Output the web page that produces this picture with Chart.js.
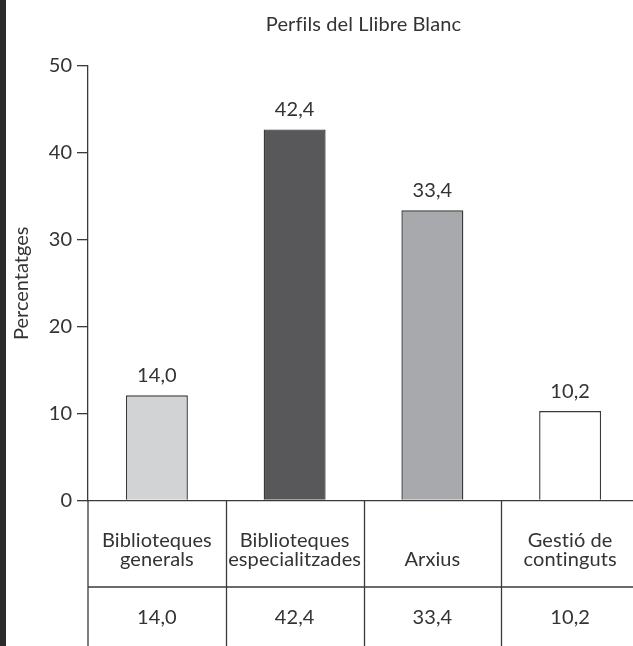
<!DOCTYPE html>
<html>
<head>
<meta charset="utf-8">
<script src="https://cdn.jsdelivr.net/npm/chart.js@4/dist/chart.umd.min.js"></script>
<style>
  html, body { margin: 0; padding: 0; background: #fff; overflow: hidden; }
  #wrap { position: relative; width: 640px; height: 646px; }
</style>
</head>
<body>
<div id="wrap"><canvas id="c" width="640" height="646"></canvas></div>
<script>
// ---- data ----
const chartTitle = 'Perfils del Llibre Blanc';
const yAxisTitle = 'Percentatges';
const categories = [['Biblioteques', 'generals'], ['Biblioteques', 'especialitzades'], ['Arxius'], ['Gestió de', 'continguts']];
const percentValues = [14.0, 42.4, 33.4, 10.2];           // printed values
const percentLabels = ['14,0', '42,4', '33,4', '10,2'];   // printed text (Catalan decimal comma)
const barHeights = [12.1, 42.7, 33.4, 10.3];              // bar heights as drawn in the picture
const yTicks = [0, 10, 20, 30, 40, 50];

const FONT = 'Lato, "Open Sans", sans-serif';
const TXT = '#333333';
const LINE = '#3a3a3a';

const decor = {
  id: 'decor',
  beforeDraw(chart) {
    const ctx = chart.ctx;
    ctx.save();
    ctx.fillStyle = '#ffffff';
    ctx.fillRect(0, 0, chart.width, chart.height);
    ctx.fillStyle = '#2b2b2b';
    ctx.fillRect(0, 0, 6, chart.height);
    ctx.restore();
  },
  afterDraw(chart) {
    const ctx = chart.ctx;
    const ca = chart.chartArea;
    const xs = chart.scales.x;
    const H = chart.height;
    ctx.save();
    if ('letterSpacing' in ctx) ctx.letterSpacing = '0.1px';
    // title
    ctx.fillStyle = TXT;
    ctx.font = '20px ' + FONT;
    ctx.textAlign = 'center';
    ctx.textBaseline = 'alphabetic';
    ctx.fillText(chartTitle, (ca.left + ca.right) / 2, 31);

    // value labels above bars
    const meta = chart.getDatasetMeta(0);
    meta.data.forEach((bar, i) => {
      ctx.fillText(percentLabels[i], bar.x, bar.y - 13);
    });

    // table lines
    ctx.strokeStyle = LINE;
    ctx.lineWidth = 1.3;
    ctx.beginPath();
    ctx.moveTo(ca.left, ca.bottom);
    ctx.lineTo(ca.left, H);
    const rowY = ca.bottom + 86.5;
    ctx.moveTo(ca.left, rowY);
    ctx.lineTo(chart.width, rowY);
    for (let i = 0; i < categories.length - 1; i++) {
      const bx = Math.round((xs.getPixelForValue(i) + xs.getPixelForValue(i + 1)) / 2) + 0.5;
      ctx.moveTo(bx, ca.bottom);
      ctx.lineTo(bx, H);
    }
    ctx.stroke();

    // category labels (bottom aligned) and value row
    ctx.fillStyle = TXT;
    categories.forEach((lines, i) => {
      const cx = xs.getPixelForValue(i);
      const base = ca.bottom + 65.5;
      for (let k = 0; k < lines.length; k++) {
        const y = base - (lines.length - 1 - k) * 19.5;
        ctx.fillText(lines[k], cx, y);
      }
      ctx.fillText(percentLabels[i], cx, ca.bottom + 123.5);
    });
    ctx.restore();
  }
};

new Chart(document.getElementById('c'), {
  type: 'bar',
  data: {
    labels: categories.map(c => c.join(' ')),
    datasets: [{
      data: barHeights,
      backgroundColor: ['#d1d3d4', '#58585a', '#a7a9ac', '#ffffff'],
      borderColor: '#3a3a3a',
      borderWidth: 1.4,
      barPercentage: 0.45,
      categoryPercentage: 1.0
    }]
  },
  options: {
    responsive: false,
    animation: false,
    devicePixelRatio: 1,
    layout: { padding: { top: 66, right: 1, bottom: 145.5, left: 0 } },
    plugins: { legend: { display: false }, tooltip: { enabled: false }, title: { display: false } },
    scales: {
      x: {
        grid: { display: false, drawTicks: false },
        ticks: { display: false },
        border: { display: true, color: LINE, width: 1.3 }
      },
      y: {
        min: 0, max: 50,
        afterFit(s) { s.width = 88; },
        afterBuildTicks(s) { s.ticks = yTicks.map(v => ({ value: v })); },
        grid: { display: true, drawOnChartArea: false, drawTicks: true, tickLength: 11, color: LINE, lineWidth: 1.3 },
        border: { display: true, color: LINE, width: 1.3 },
        ticks: { padding: 5, color: TXT, font: { family: FONT, size: 20 } },
        title: { display: true, text: yAxisTitle, color: TXT, padding: { top: 10, bottom: 0 }, font: { family: FONT, size: 20 } }
      }
    }
  },
  plugins: [decor]
});
</script>
</body>
</html>
